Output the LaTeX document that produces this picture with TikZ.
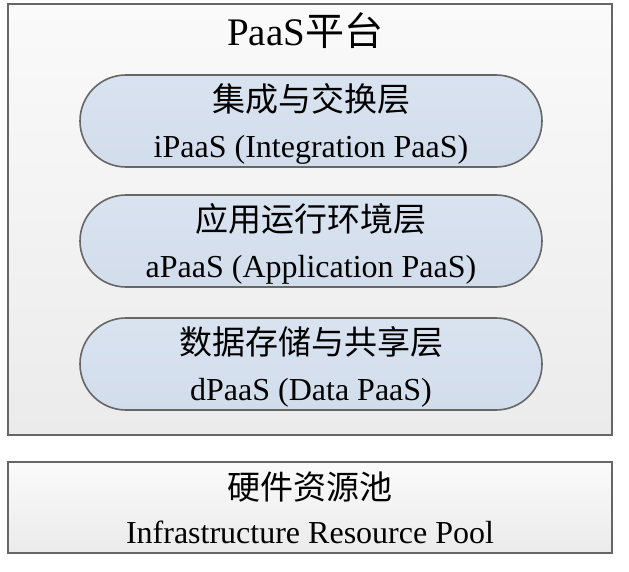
\documentclass[tikz,border=0pt]{standalone}
\usepackage{fontspec}
\setmainfont{Liberation Serif}
\newfontfamily\cjk{Noto Sans CJK SC}
\usepackage{xcolor}
\usepackage{tikz}
\usetikzlibrary{positioning}

\definecolor{edgegray}{HTML}{666666}
\definecolor{boxtop}{HTML}{FAFAFA}
\definecolor{boxbot}{HTML}{EBEBEB}
\definecolor{pilltop}{HTML}{D9E3F0}
\definecolor{pillbot}{HTML}{D2DDEC}

\newcommand{\cnline}[1]{{\cjk\fontsize{33}{33}\selectfont #1}}

\begin{document}
\begin{tikzpicture}[
    x=1pt, y=-1pt,
    framebox/.style={rectangle, draw=edgegray, line width=1.6pt, top color=boxtop, bottom color=boxbot, inner sep=0pt},
    layerpill/.style={rectangle, rounded corners=46pt, draw=edgegray, line width=1.6pt, top color=pilltop, bottom color=pillbot,
        minimum width=462pt, minimum height=92pt, inner sep=0pt},
    layertext/.style={align=center, inner sep=0pt, font=\fontsize{32}{46}\selectfont}
]
\useasboundingbox (0,0) rectangle (629,572);

% PaaS platform frame
\node[framebox, minimum width=604pt, minimum height=431pt] (platform) at (310,219.5) {};
\node[font=\fontsize{39}{39}\selectfont, inner sep=0pt] (title) at (305,31) {PaaS{\cjk 平台}};

% Layers
\node[layerpill] (ipaas) at (311,121) {};
\node[layertext] (ipaastext) at ([yshift=-3pt]ipaas.center)
    {\cnline{集成与交换层}\\iPaaS (Integration PaaS)};
\node[layerpill] (apaas) at (311,241) {};
\node[layertext] (apaastext) at ([yshift=-3pt]apaas.center)
    {\cnline{应用运行环境层}\\aPaaS (Application PaaS)};
\node[layerpill] (dpaas) at (311,364) {};
\node[layertext] (dpaastext) at ([yshift=-3pt]dpaas.center)
    {\cnline{数据存储与共享层}\\dPaaS (Data PaaS)};

% Hardware pool
\node[framebox, minimum width=604pt, minimum height=91pt] (pool) at (310,507.5) {};
\node[layertext, font=\fontsize{32}{44}\selectfont] (pooltext) at (310,508)
    {\cnline{硬件资源池}\\Infrastructure Resource Pool};
\end{tikzpicture}
\end{document}
